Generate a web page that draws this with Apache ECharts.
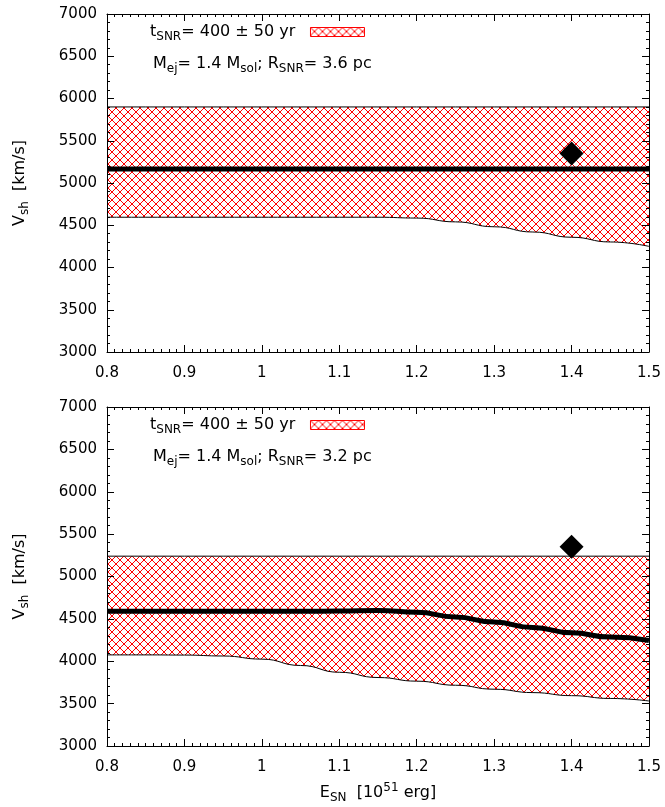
<!DOCTYPE html>
<html lang="en">
<head>
    <meta charset="UTF-8">
    <title>Vsh vs ESN</title>
    <script type="text/javascript" src="https://cdn.jsdelivr.net/npm/echarts@6/dist/echarts.min.js"></script>
    <style>
        html, body { margin: 0; padding: 0; background: #fff; }
    </style>
</head>
<body>
<div id="main" style="width: 665px;height:807px;"></div>

<script type="text/javascript">
    // E_SN grid (10^51 erg)
    var E = [0.8, 0.85, 0.9, 0.95, 1.0, 1.05, 1.1, 1.15, 1.2, 1.25, 1.3, 1.35, 1.4, 1.45, 1.5];

    // top panel, R_SNR = 3.6 pc
    var upperTop  = [5900, 5900, 5900, 5900, 5900, 5900, 5900, 5900, 5900, 5900, 5900, 5900, 5900, 5900, 5900];
    var lowerTop  = [4595, 4595, 4595, 4595, 4595, 4595, 4595, 4595, 4585, 4540, 4482, 4420, 4358, 4302, 4250];
    var centerTop = [5165, 5165, 5165, 5165, 5165, 5165, 5165, 5165, 5165, 5165, 5165, 5165, 5165, 5165, 5165];

    // bottom panel, R_SNR = 3.2 pc
    var upperBottom  = [5240, 5240, 5240, 5240, 5240, 5240, 5240, 5240, 5240, 5240, 5240, 5240, 5240, 5240, 5240];
    var lowerBottom  = [4075, 4075, 4073, 4062, 4025, 3950, 3870, 3808, 3765, 3717, 3670, 3630, 3594, 3561, 3531];
    var centerBottom = [4590, 4590, 4590, 4590, 4590, 4590, 4592, 4600, 4578, 4522, 4462, 4398, 4335, 4285, 4245];

    // observed point
    var obs = [[1.4, 5350]];

    var panelLabels = ['3.6', '3.2'];

    var font = 'DejaVu Sans';
    var rich = {
        n: { fontSize: 16, fontFamily: font, fontWeight: 'normal', color: '#000', lineHeight: 22 },
        s: { fontSize: 12, fontFamily: font, fontWeight: 'normal', color: '#000', lineHeight: 12, verticalAlign: 'bottom' },
        p: { fontSize: 12, fontFamily: font, fontWeight: 'normal', color: '#000', lineHeight: 12, verticalAlign: 'top' }
    };

    // red cross hatch, drawn pixel by pixel so it stays crisp
    function hatch() {
        var c = document.createElement('canvas');
        c.width = 8; c.height = 8;
        var g = c.getContext('2d');
        g.fillStyle = '#ff0000';
        for (var k = 0; k < 8; k++) {
            g.fillRect(k, k, 1, 1);
            g.fillRect(7 - k, k, 1, 1);
        }
        return c;
    }
    var hatchFill = { image: hatch(), repeat: 'repeat' };

    function pairs(ys) {
        return E.map(function (x, k) { return [x, ys[k]]; });
    }

    var grids = [
        { left: 107, right: 16, top: 14, height: 338 },
        { left: 107, right: 16, top: 407, height: 339 }
    ];

    var xAxes = [], yAxes = [], series = [], legends = [], titles = [];
    var panels = [[upperTop, lowerTop, centerTop], [upperBottom, lowerBottom, centerBottom]];

    panels.forEach(function (p, i) {
        var upper = p[0], lower = p[1], center = p[2];
        var base = {
            gridIndex: i,
            z: 10,
            axisLine: { lineStyle: { color: '#000', width: 1 } },
            axisTick: { inside: true, length: 7, lineStyle: { color: '#000' } },
            splitLine: { show: false }
        };
        var xMinor = { show: true, splitNumber: 10, length: 3, lineStyle: { color: '#000' } };
        var yMinor = { show: true, splitNumber: 5, length: 3, lineStyle: { color: '#000' } };

        xAxes.push(Object.assign({}, base, {
            type: 'value', position: 'bottom', min: 0.8, max: 1.5, interval: 0.1,
            minorTick: xMinor,
            axisLabel: {
                margin: 14, fontSize: 15, fontFamily: font, color: '#000',
                formatter: function (v) { return String(Math.round(v * 10) / 10); }
            },
            name: i === 1 ? '{n|E}{s|SN}{n|  [10}{p|51}{n| erg]}' : '',
            nameLocation: 'middle', nameGap: 36,
            nameTextStyle: { rich: rich }
        }));
        xAxes.push(Object.assign({}, base, {
            type: 'value', position: 'top', min: 0.8, max: 1.5, interval: 0.1,
            minorTick: xMinor,
            axisLabel: { show: false }
        }));
        yAxes.push(Object.assign({}, base, {
            type: 'value', position: 'left', min: 3000, max: 7000, interval: 500,
            minorTick: yMinor,
            axisLabel: {
                margin: 10, fontSize: 15, fontFamily: font, color: '#000',
                formatter: function (v) { return String(v); }
            },
            name: '{n|V}{s|sh}{n|  [km/s]}',
            nameLocation: 'middle', nameGap: 76, nameRotate: 90,
            nameTextStyle: { rich: rich }
        }));
        yAxes.push(Object.assign({}, base, {
            type: 'value', position: 'right', min: 3000, max: 7000, interval: 500,
            minorTick: yMinor,
            axisLabel: { show: false }
        }));

        var xi = 2 * i, yi = 2 * i;

        // hatched band: fill below the upper edge, then mask below the lower edge
        series.push({
            type: 'line', name: 't', xAxisIndex: xi, yAxisIndex: yi,
            data: pairs(upper), symbol: 'none', z: 2,
            itemStyle: { color: '#ff0000' },
            lineStyle: { color: '#000', width: 1 },
            areaStyle: { color: hatchFill, opacity: 1, origin: 'start' }
        });
        series.push({
            type: 'line', name: 'lo' + i, xAxisIndex: xi, yAxisIndex: yi,
            data: pairs(lower), smooth: 0.5, smoothMonotone: 'x', symbol: 'none', z: 3,
            lineStyle: { color: '#000', width: 1 },
            areaStyle: { color: '#fff', opacity: 1, origin: 'start' }
        });
        series.push({
            type: 'line', name: 'c' + i, xAxisIndex: xi, yAxisIndex: yi,
            data: pairs(center), smooth: 0.5, smoothMonotone: 'x', symbol: 'none', z: 4,
            lineStyle: { color: '#000', width: 5 }
        });
        series.push({
            type: 'scatter', name: 'obs' + i, xAxisIndex: xi, yAxisIndex: yi,
            data: obs, symbol: 'diamond', symbolSize: 24, z: 5,
            itemStyle: { color: '#000', opacity: 1 }
        });

        legends.push({
            data: [{ name: 't', icon: 'rect',
                itemStyle: { color: hatchFill, borderColor: '#ff0000', borderWidth: 1 } }],
            left: 145, top: grids[i].top + 5,
            align: 'right', itemWidth: 54, itemHeight: 9, selectedMode: false,
            formatter: function () { return '{n|t}{s|SNR}{n|= 400 ± 50 yr  }'; },
            textStyle: { rich: rich }
        });
        titles.push({
            text: '{n|M}{s|ej}{n|= 1.4 M}{s|sol}{n|; R}{s|SNR}{n|= ' + panelLabels[i] + ' pc}',
            left: 153, top: grids[i].top + 39, padding: 0,
            textStyle: { fontWeight: 'normal', rich: rich }
        });
    });

    var myChart = echarts.init(document.getElementById('main'));
    var option = {
        animation: false,
        backgroundColor: '#fff',
        title: titles,
        legend: legends,
        grid: grids,
        xAxis: xAxes,
        yAxis: yAxes,
        series: series
    };
    myChart.setOption(option);
</script>
</body>
</html>
